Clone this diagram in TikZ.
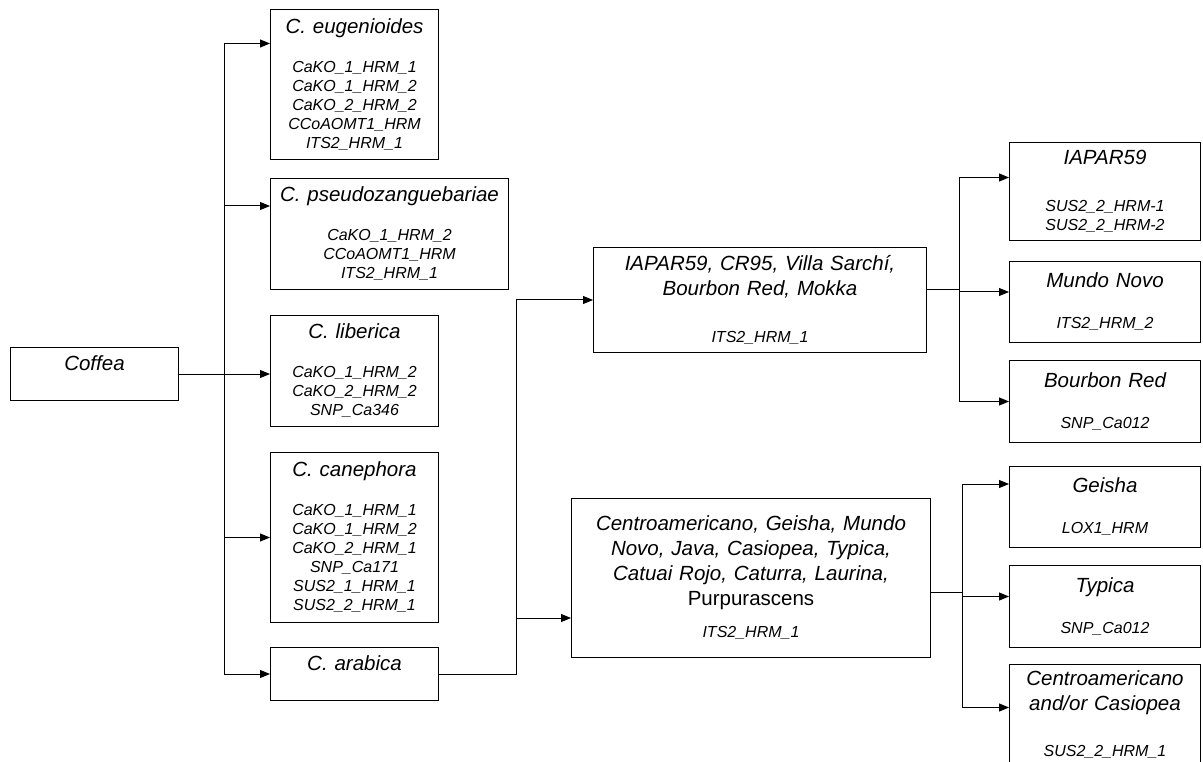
\documentclass[tikz,border=0pt]{standalone}
\usepackage{fontspec}
\setmainfont{Liberation Sans}
\usetikzlibrary{positioning, arrows.meta}

\newcommand{\hrmfont}{\fontsize{16}{19}\selectfont}

\tikzstyle{species} = [
    rectangle,
    draw=black,
    line width=1pt,
    align=center,
    inner sep=4pt,
    font=\fontsize{20.5}{25}\selectfont\itshape
]
\tikzstyle{narrow} = [species, text width=160pt]
\tikzstyle{cultivar} = [species, text width=183pt]
\tikzstyle{nameonly} = [text height=19pt, text depth=26pt]
\tikzstyle{link} = [line width=1pt]
\tikzstyle{arrow} = [line width=1pt, -{Triangle[length=10pt,width=8pt]}]

\begin{document}
\begin{tikzpicture}[x=1pt, y=-1pt, node distance=20pt]
\useasboundingbox (0,0) rectangle (1203,762);

% genus and species
\node (coffea) [narrow, nameonly, anchor=north west] at (10,347) {Coffea};

\node (euge) [narrow, minimum height=150pt, anchor=north west] at (270,9)
{C. eugenioides\\[20pt]\hrmfont CaKO\_1\_HRM\_1\\CaKO\_1\_HRM\_2\\CaKO\_2\_HRM\_2\\CCoAOMT1\_HRM\\ITS2\_HRM\_1\par};

\node (pseudo) [species, text width=230pt, minimum height=111pt, below=18pt of euge.south west, anchor=north west]
{C. pseudozanguebariae\\[20pt]\hrmfont CaKO\_1\_HRM\_2\\CCoAOMT1\_HRM\\ITS2\_HRM\_1\par};

\node (liberica) [narrow, minimum height=111pt, below=25pt of pseudo.south west, anchor=north west]
{C. liberica\\[20pt]\hrmfont CaKO\_1\_HRM\_2\\CaKO\_2\_HRM\_2\\SNP\_Ca346\par};

\node (canephora) [narrow, minimum height=170pt, below=25pt of liberica.south west, anchor=north west]
{C. canephora\\[20pt]\hrmfont CaKO\_1\_HRM\_1\\CaKO\_1\_HRM\_2\\CaKO\_2\_HRM\_1\\SNP\_Ca171\\SUS2\_1\_HRM\_1\\SUS2\_2\_HRM\_1\par};

\node (arabica) [narrow, nameonly, below=24pt of canephora.south west, anchor=north west] {C. arabica};

% cultivar groups
\node (iapgrp) [species, text width=325pt, minimum height=105pt, anchor=north west] at (593,247)
{IAPAR59, CR95, Villa Sarchí,\\Bourbon Red, Mokka\\[28pt]\hrmfont ITS2\_HRM\_1\par};

\node (centgrp) [species, text width=351pt, minimum height=159pt, anchor=north west] at (571,498)
{Centroamericano, Geisha, Mundo\\Novo, Java, Casiopea, Typica,\\Catuai Rojo, Caturra, Laurina,\\{\upshape Purpurascens}\\[13pt]\hrmfont ITS2\_HRM\_1\par};

% cultivars
\node (iap59) [cultivar, minimum height=98pt, anchor=north west] at (1009,142)
{IAPAR59\\[28pt]\hrmfont SUS2\_2\_HRM-1\\SUS2\_2\_HRM-2\par};

\node (mundo) [cultivar, minimum height=81pt, below=20pt of iap59.south west, anchor=north west]
{Mundo Novo\\[22pt]\hrmfont ITS2\_HRM\_2\par};

\node (bourbon) [cultivar, minimum height=82pt, below=17pt of mundo.south west, anchor=north west]
{Bourbon Red\\[22pt]\hrmfont SNP\_Ca012\par};

\node (geisha) [cultivar, minimum height=81pt, below=23pt of bourbon.south west, anchor=north west]
{Geisha\\[22pt]\hrmfont LOX1\_HRM\par};

\node (typica) [cultivar, minimum height=82pt, below=17pt of geisha.south west, anchor=north west]
{Typica\\[22pt]\hrmfont SNP\_Ca012\par};

\node (centro) [cultivar, minimum height=112pt, below=16pt of typica.south west, anchor=north west]
{Centroamericano\\and/or Casiopea\\[27pt]\hrmfont SUS2\_2\_HRM\_1\par\nointerlineskip\vbox to 12pt{}};

% connectors from the genus
\coordinate (split) at (224,372);
\coordinate (eugein) at ([yshift=41pt]euge.west);
\coordinate (pseudoin) at ([yshift=28pt]pseudo.west);

\draw [link] (split |- eugein) -- (split |- arabica.west);
\draw [arrow] (coffea.east) -- (coffea.east -| liberica.west);
\draw [arrow] (split |- eugein) -- (eugein);
\draw [arrow] (split |- pseudoin) -- (pseudoin);
\draw [arrow] (split |- canephora.west) -- (canephora.west);
\draw [arrow] (split |- arabica.west) -- (arabica.west);

% connectors from C. arabica
\coordinate (fork) at (516,0);
\coordinate (centin) at ([yshift=-40pt]centgrp.west);

\draw [link] (arabica.east) -| (fork |- iapgrp.west);
\draw [arrow] (fork |- iapgrp.west) -- (iapgrp.west);
\draw [arrow] (fork |- centin) -- (centin);

% connectors to the cultivars
\coordinate (upfork) at (959,0);
\coordinate (lowfork) at (962,0);
\coordinate (iapout) at ([yshift=10pt]iapgrp.east);
\coordinate (centout) at ([yshift=-14pt]centgrp.east);
\coordinate (iap59in) at ([yshift=14pt]iap59.west);
\coordinate (mundoin) at ([yshift=10pt]mundo.west);
\coordinate (geishain) at ([yshift=23pt]geisha.west);
\coordinate (typicain) at ([yshift=10pt]typica.west);
\coordinate (centroin) at ([yshift=13pt]centro.west);

\draw [link] (iapout) -- (upfork |- iapout);
\draw [link] (upfork |- iap59in) -- (upfork |- bourbon.west);
\draw [arrow] (upfork |- iap59in) -- (iap59in);
\draw [arrow] (upfork |- mundoin) -- (mundoin);
\draw [arrow] (upfork |- bourbon.west) -- (bourbon.west);

\draw [link] (centout) -- (lowfork |- centout);
\draw [link] (lowfork |- geishain) -- (lowfork |- centroin);
\draw [arrow] (lowfork |- geishain) -- (geishain);
\draw [arrow] (lowfork |- typicain) -- (typicain);
\draw [arrow] (lowfork |- centroin) -- (centroin);

\end{tikzpicture}
\end{document}
